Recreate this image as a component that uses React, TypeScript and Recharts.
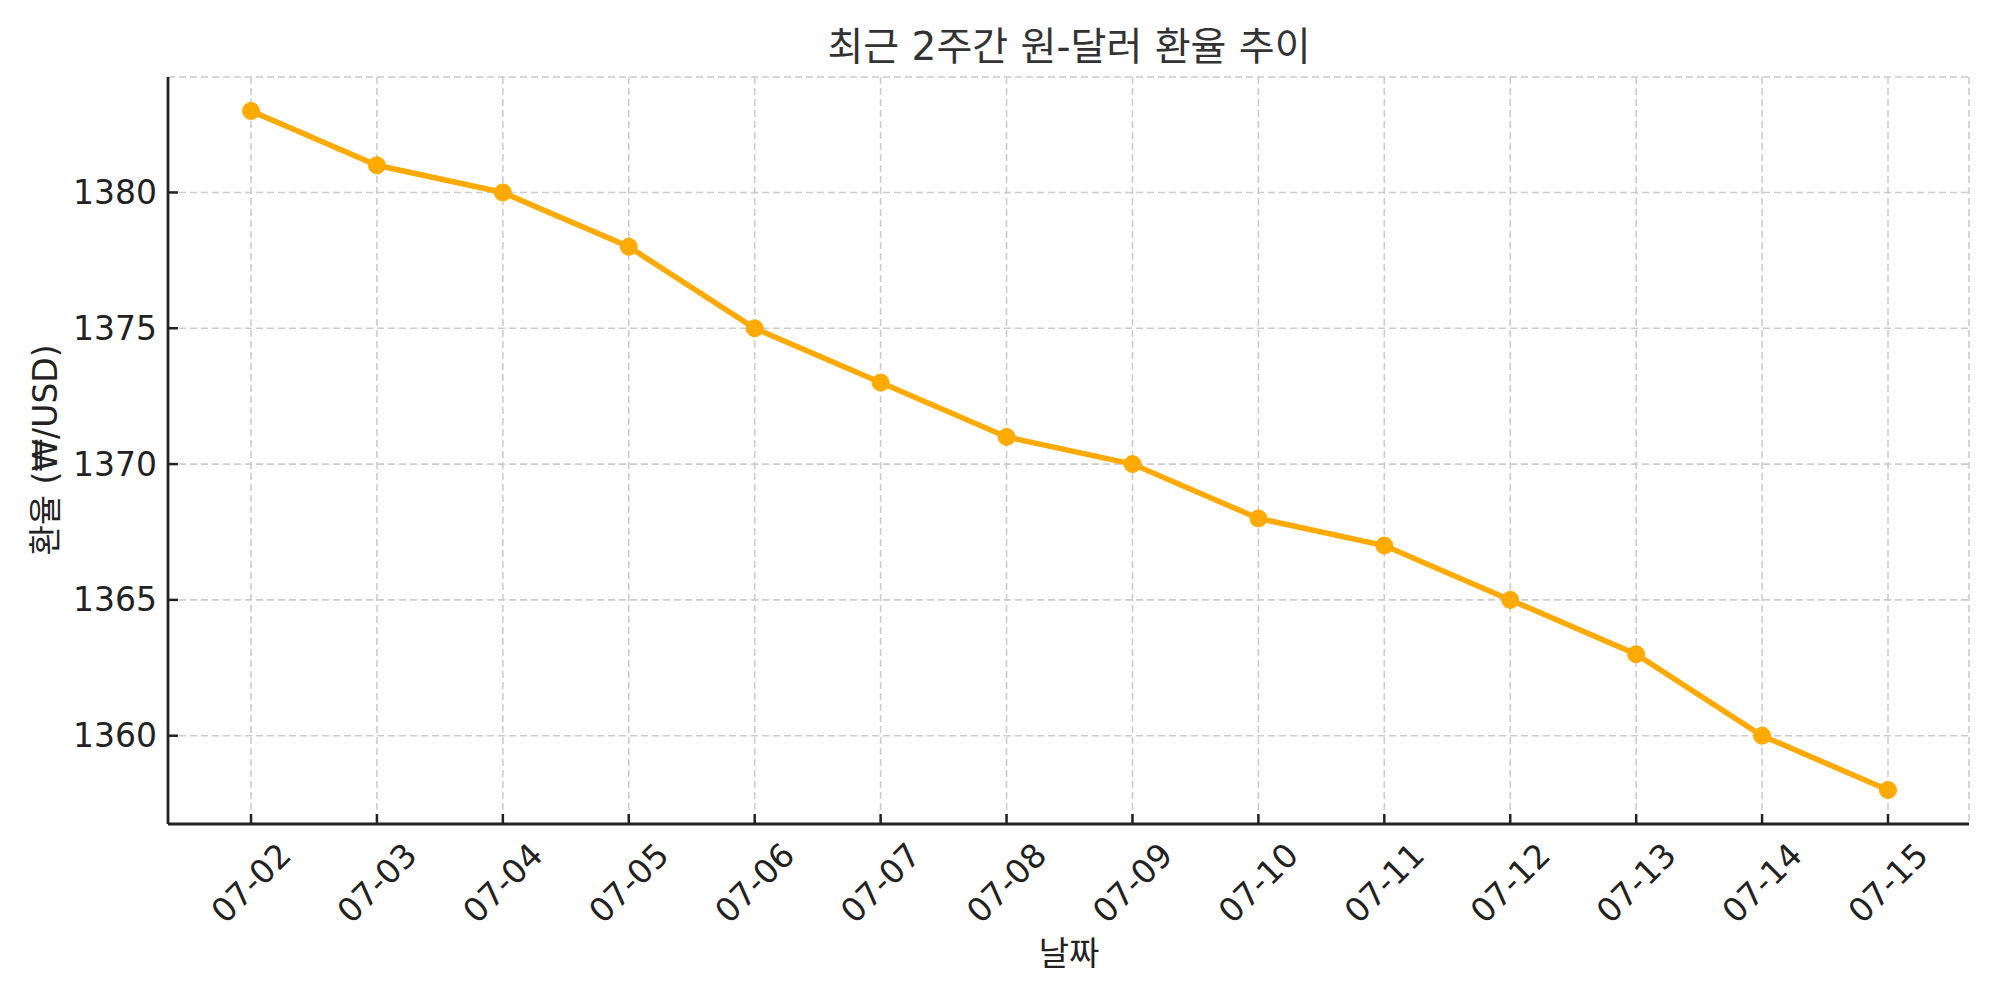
import React from 'react';
import { LineChart, Line, XAxis, YAxis, CartesianGrid } from 'recharts';

const dates = ['07-02', '07-03', '07-04', '07-05', '07-06', '07-07', '07-08', '07-09', '07-10', '07-11', '07-12', '07-13', '07-14', '07-15'];
const rates = [1383, 1381, 1380, 1378, 1375, 1373, 1371, 1370, 1368, 1367, 1365, 1363, 1360, 1358];
const yTicks = [1360, 1365, 1370, 1375, 1380];
const yDomain = [1356.75, 1384.25];

const titleText = '최근 2주간 원-달러 환율 추이';
const xLabelText = '날짜';
const yLabelText = '환율 (₩/USD)';

const data = dates.map((d, i) => ({ date: d, rate: rates[i] }));

const FONT = "'DejaVu Sans', 'Noto Sans CJK KR', sans-serif";
const TEXT = '#222222';
const LINE = '#FFAA00';

const XTick = (props: any) => {
  const { x, y, payload } = props;
  const cy = y + 59;
  return (
    <g>
      <line x1={x} x2={x} y1={y} y2={y - 10} stroke={TEXT} strokeWidth={2.5} />
      <text
        x={x}
        y={cy}
        textAnchor="middle"
        dominantBaseline="central"
        transform={`rotate(-45, ${x}, ${cy})`}
        fontSize={33}
        fill={TEXT}
        fontFamily={FONT}
      >
        {payload.value}
      </text>
    </g>
  );
};

const YTick = (props: any) => {
  const { x, y, payload } = props;
  return (
    <g>
      <line x1={x} x2={x + 10} y1={y} y2={y} stroke={TEXT} strokeWidth={2.5} />
      <text
        x={x - 11}
        y={y}
        textAnchor="end"
        dominantBaseline="central"
        fontSize={33}
        fill={TEXT}
        fontFamily={FONT}
      >
        {payload.value}
      </text>
    </g>
  );
};

export default function App() {
  return (
    <div style={{ position: 'absolute', left: 0, top: 0, width: 2000, height: 1000, background: '#fff' }}>
      <LineChart
        width={2000}
        height={1000}
        data={data}
        margin={{ top: 77, right: 31, bottom: 0, left: 0 }}
      >
        <CartesianGrid stroke="#cccccc" strokeDasharray="7 4" strokeWidth={1.6} />
        <XAxis
          dataKey="date"
          padding={{ left: 83, right: 81 }}
          tickSize={0}
          tickMargin={0}
          tick={<XTick />}
          interval={0}
          axisLine={{ stroke: TEXT, strokeWidth: 2.8 }}
          tickLine={false}
          height={176}
        />
        <YAxis
          type="number"
          domain={yDomain}
          ticks={yTicks}
          allowDataOverflow
          width={168}
          tickSize={0}
          tickMargin={0}
          tick={<YTick />}
          axisLine={{ stroke: TEXT, strokeWidth: 2.8 }}
          tickLine={false}
        />
        <Line
          type="linear"
          dataKey="rate"
          stroke={LINE}
          strokeWidth={5.5}
          dot={{ r: 8.5, fill: LINE, stroke: LINE, strokeWidth: 1 }}
          activeDot={false}
          isAnimationActive={false}
        />
      </LineChart>
      <svg width={2000} height={1000} style={{ position: 'absolute', left: 0, top: 0, pointerEvents: 'none' }}>
        <text x={1069} y={60} textAnchor="middle" fontSize={39} fill="#333333" fontFamily={FONT}>
          {titleText}
        </text>
        <text x={1069} y={965} textAnchor="middle" fontSize={33} fill={TEXT} fontFamily={FONT}>
          {xLabelText}
        </text>
        <text
          x={45}
          y={450}
          textAnchor="middle"
          dominantBaseline="central"
          transform="rotate(-90, 45, 450)"
          fontSize={33}
          fill={TEXT}
          fontFamily={FONT}
        >
          {yLabelText}
        </text>
      </svg>
    </div>
  );
}
